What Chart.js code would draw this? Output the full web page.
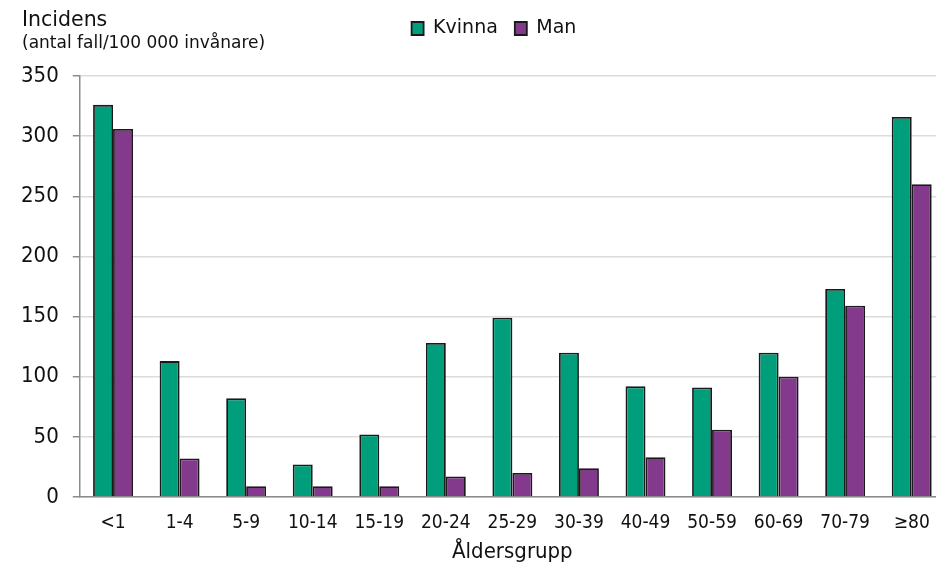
<!DOCTYPE html>
<html><head><meta charset="utf-8">
<script src="https://cdn.jsdelivr.net/npm/chart.js@4"></script>
<style>html,body{margin:0;padding:0;overflow:hidden;background:#fff}</style>
</head><body>
<canvas id="c" width="945" height="566"></canvas>
<script>
const categories = ['<1','1-4','5-9','10-14','15-19','20-24','25-29','30-39','40-49','50-59','60-69','70-79','≥80'];
const kvinna = [326,113,82,27,52,128,149,120,92,91,120,173,316];
const man = [306,32,9,9,9,17,20,24,33,56,100,159,260];
const seriesNames = ['Kvinna','Man'];
const yTitle = 'Incidens';
const ySubtitle = '(antal fall/100 000 invånare)';
const xTitle = 'Åldersgrupp';

const FONT = '"DejaVu Sans Condensed", "DejaVu Sans", sans-serif';
const FONT_W = '"DejaVu Sans", sans-serif';
const TXT = '#111111';

const topLabels = {
  id: 'topLabels',
  beforeInit(chart) {
    const lg = chart.legend;
    if (lg) {
      const fit = lg.fit;
      lg.fit = function () { fit.call(this); this.height += 30; };
    }
  },
  beforeDraw(chart) {
    const lg = chart.legend;
    if (lg && !lg._shifted) {
      lg.left += 18; lg.right += 18; lg.top += 2; lg._shifted = true;
    }
  },
  afterDraw(chart) {
    const ctx = chart.ctx;
    ctx.save();
    ctx.fillStyle = TXT;
    ctx.textAlign = 'left';
    ctx.textBaseline = 'alphabetic';
    ctx.font = '20.5px ' + FONT_W;
    ctx.fillText(yTitle, 22, 26);
    ctx.font = '17px ' + FONT_W;
    ctx.fillText(ySubtitle, 22, 48);
    ctx.restore();
  }
};

new Chart(document.getElementById('c'), {
  type: 'bar',
  data: {
    labels: categories,
    datasets: [
      { label: seriesNames[0], data: kvinna, backgroundColor: '#009E7B', borderColor: '#1a1a1a', borderWidth: 1.8 },
      { label: seriesNames[1], data: man, backgroundColor: '#833A8C', borderColor: '#1a1a1a', borderWidth: 1.8 }
    ]
  },
  options: {
    responsive: false,
    animation: false,
    datasets: { bar: { categoryPercentage: 0.6, barPercentage: 1.0 } },
    layout: { padding: { left: 7, right: 0, top: 0, bottom: 0 } },
    plugins: {
      legend: {
        position: 'top',
        align: 'center',
        labels: { boxWidth: 12, boxHeight: 13, padding: 17, color: TXT, font: { family: FONT_W, size: 19 } }
      },
      tooltip: { enabled: false }
    },
    scales: {
      x: {
        afterFit(scale) { scale.height = 69; },
        grid: { display: false, drawTicks: false, tickLength: 0 },
        border: { display: true, color: '#8c8c8c', width: 1.5 },
        ticks: { color: TXT, padding: 15, font: { family: FONT, size: 19 }, maxRotation: 0, autoSkip: false },
        title: { display: true, text: xTitle, color: TXT, font: { family: FONT, size: 22 }, padding: { top: 0, bottom: 1 } }
      },
      y: {
        min: 0, max: 350,
        ticks: { stepSize: 50, color: TXT, padding: 14, font: { family: FONT, size: 22 } },
        grid: { color: '#dcdcdc', lineWidth: 1.5, tickLength: 7, tickColor: '#8c8c8c' },
        border: { display: true, color: '#8c8c8c', width: 1.5 }
      }
    }
  },
  plugins: [topLabels]
});
</script>
</body></html>
